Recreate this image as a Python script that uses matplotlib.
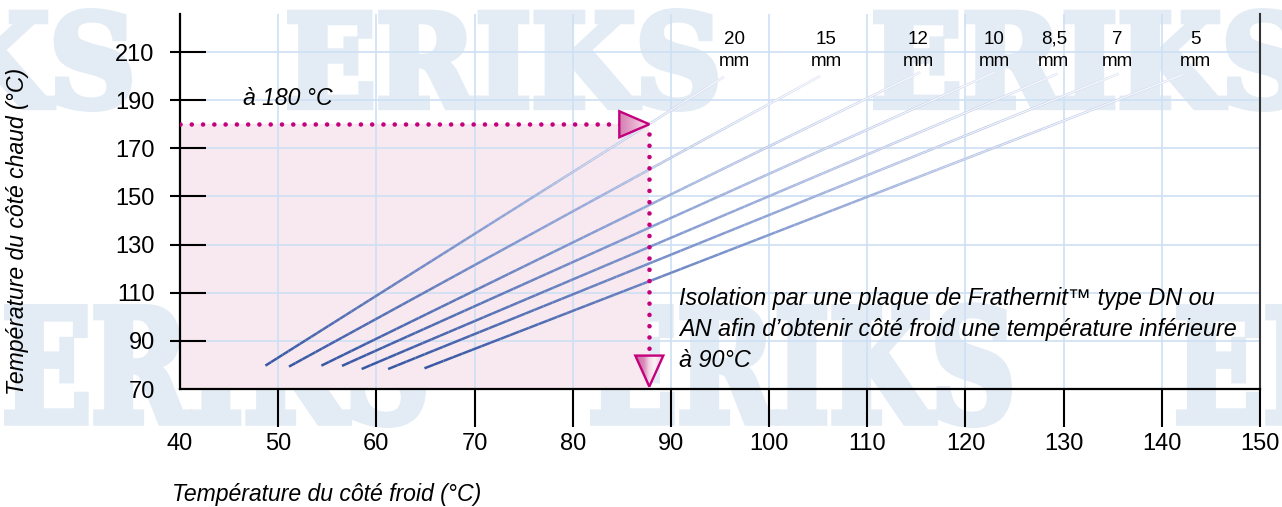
import numpy as np
import matplotlib
matplotlib.use('Agg')
import matplotlib.pyplot as plt
import matplotlib.transforms as mtransforms
from matplotlib.collections import LineCollection
from matplotlib.colors import LinearSegmentedColormap
from matplotlib.font_manager import FontProperties
from matplotlib.patches import PathPatch, Polygon
from matplotlib.textpath import TextPath

plt.rcParams['font.family'] = ['Liberation Sans', 'DejaVu Sans']

# plate thickness and the (cold side, hot side) temperatures at both ends of each curve
thickness = ['20', '15', '12', '10', '8,5', '7', '5']
cold_low = [48.7, 51.1, 54.4, 56.5, 58.5, 61.2, 64.9]
hot_low = [79.7, 79.3, 79.7, 79.6, 78.3, 78.3, 78.6]
cold_high = [95.4, 105.2, 115.4, 123.0, 129.4, 135.6, 142.2]
hot_high = [199.7, 200.0, 201.6, 201.6, 201.0, 201.0, 200.7]

# worked example: 180 °C on the hot side read down to the cold side
hot_example = 180
cold_example = 87.8

xticks = [40, 50, 60, 70, 80, 90, 100, 110, 120, 130, 140, 150]
yticks = [70, 90, 110, 130, 150, 170, 190, 210]

# where the thickness labels sit (cold-side temperature)
label_x = [96.5, 105.8, 115.2, 122.9, 129.0, 135.5, 143.4]

W, H = 1282, 507
MAG = '#c4007c'
WM = '#e3ecf5'

fig = plt.figure(figsize=(W / 100, H / 100), dpi=100)
fig.patch.set_facecolor('white')

# ERIKS watermark in the background, stroked to make it heavier
wm_path = TextPath((0, 0), 'ERIKS', size=100,
                   prop=FontProperties(family='DejaVu Serif', weight='bold'))
ext = wm_path.get_extents()


def watermark(left, top, width, height, stroke=7):
    pad = stroke / 2
    tr = (mtransforms.Affine2D()
          .translate(-ext.x0, -ext.y0)
          .scale((width - stroke) / ext.width, (height - stroke) / ext.height)
          .translate(left + pad, H - top - height + pad))
    p = PathPatch(wm_path, transform=tr, fc=WM, ec=WM, lw=stroke * 0.72,
                  joinstyle='miter', zorder=-5)
    fig.add_artist(p)


for x0 in (-299, 287, 873):
    watermark(x0, 8, 431, 104)
for x0 in (4, 590, 1176):
    watermark(x0, 302, 422, 126)

ax = fig.add_axes([180 / W, (H - 389) / H, (1260 - 180) / W, (389 - 14) / H])
ax.patch.set_alpha(0)

# shaded zone below the example
ax.fill_between([40, cold_example], 70, hot_example, color='#f7e9ef', lw=0, zorder=0.1)

# curves, dark at the bottom fading out towards the top
cmap = LinearSegmentedColormap.from_list('plate', ['#3857a4', '#8ea3d6', '#e2e7f6'])
t = np.linspace(0, 1, 81)
for i in range(len(thickness)):
    xs = cold_low[i] + t * (cold_high[i] - cold_low[i])
    ys = hot_low[i] + t * (hot_high[i] - hot_low[i])
    pts = np.column_stack([xs, ys]).reshape(-1, 1, 2)
    segs = np.concatenate([pts[:-1], pts[1:]], axis=1)
    tm = (t[:-1] + t[1:]) / 2
    ax.add_collection(LineCollection(segs, colors=cmap(tm), linewidths=1.8,
                                     capstyle='butt', zorder=3))
    core = np.zeros((len(tm), 4))
    core[:, :3] = 1
    core[:, 3] = np.clip((tm - 0.55) / 0.3, 0, 1)
    ax.add_collection(LineCollection(segs, colors=core, linewidths=0.6,
                                     capstyle='butt', zorder=3.1))
    ax.text(label_x[i], 215.4, thickness[i], ha='center', va='center', fontsize=13.5)
    ax.text(label_x[i], 205.9, 'mm', ha='center', va='center', fontsize=13.5)

# dotted read-off lines
dots = dict(color=MAG, lw=3.3, linestyle=(0, (0.01, 2.45)),
            dash_capstyle='round', zorder=4)
ax.plot([40, cold_example - 1], [hot_example, hot_example], **dots)
ax.plot([cold_example, cold_example], [hot_example - 4, 76], **dots)


def arrow_head(x, y, verts, colors):
    tr = mtransforms.Affine2D() + mtransforms.ScaledTranslation(x, y, ax.transData)
    verts = np.array(verts, float)
    clip = Polygon(verts, closed=True, transform=tr, fc='none', ec='none')
    ax.add_patch(clip)
    grad = LinearSegmentedColormap.from_list('g', colors)(np.linspace(0, 1, 64))[None, :, :]
    im = ax.imshow(grad, extent=(verts[:, 0].min(), verts[:, 0].max(),
                                 verts[:, 1].min(), verts[:, 1].max()),
                   transform=tr, aspect='auto', interpolation='bilinear', zorder=5)
    im.set_clip_path(clip)
    ax.add_patch(Polygon(verts, closed=True, transform=tr, fc='none', ec=MAG,
                         lw=1.7, joinstyle='miter', zorder=6))


arrow_head(cold_example, hot_example, [(0, 0), (-30, -13), (-30, 13)],
           [(0, '#d27db0'), (0.5, '#e7acce'), (1, '#f8e4ef')])
arrow_head(cold_example, 71, [(0, 0), (-14, 31), (14, 31)],
           [(0, '#c96aa5'), (0.32, '#d98bb9'), (0.5, '#f3d4e5'),
            (0.7, '#fcf2f7'), (1, '#efc6dd')])

ax.text(46.4, 190.5, 'à 180 °C', style='italic', fontsize=16.6, va='center')
note = ['Isolation par une plaque de Frathernit™ type DN ou',
        'AN afin d’obtenir côté froid une température inférieure',
        'à 90°C']
for k, line in enumerate(note):
    ax.text(90.8, 107.8 - k * 12.9, line, style='italic', fontsize=16.8, va='center')

ax.set_xlim(40, 150)
ax.set_ylim(70, 225.8)
ax.set_xticks(xticks)
ax.set_yticks(yticks)
ax.set_yticks(yticks, minor=True)
ax.yaxis.remove_overlapping_locs = False
ax.set_axisbelow(True)
ax.grid(color='#cde0f4', lw=1.2, zorder=0.5)

ax.tick_params(axis='x', which='major', direction='out', length=27, width=1.5,
               labelsize=17, pad=5)
ax.tick_params(axis='y', which='major', direction='out', length=7.2, width=1.5,
               labelsize=17, pad=11)
ax.tick_params(axis='y', which='minor', direction='in', length=18.5, width=1.5)
ax.xaxis.get_major_ticks()[0].tick1line.set_visible(False)
ax.yaxis.get_major_ticks()[0].tick1line.set_visible(False)
ax.yaxis.get_minor_ticks()[0].tick1line.set_visible(False)

for s in ('left', 'bottom'):
    ax.spines[s].set_linewidth(1.6)
ax.spines['right'].set_linewidth(1.5)
ax.spines['right'].set_color('#333333')
ax.spines['top'].set_visible(False)

fig.text(172 / W, 1 - 494 / H, 'Température du côté froid (°C)', style='italic',
         fontsize=16.6, va='center', ha='left')
fig.text(18 / W, 1 - 231 / H, 'Température du côté chaud (°C)', style='italic',
         fontsize=16.6, va='center', ha='center', rotation=90)

fig.savefig('out.png', dpi=100)
